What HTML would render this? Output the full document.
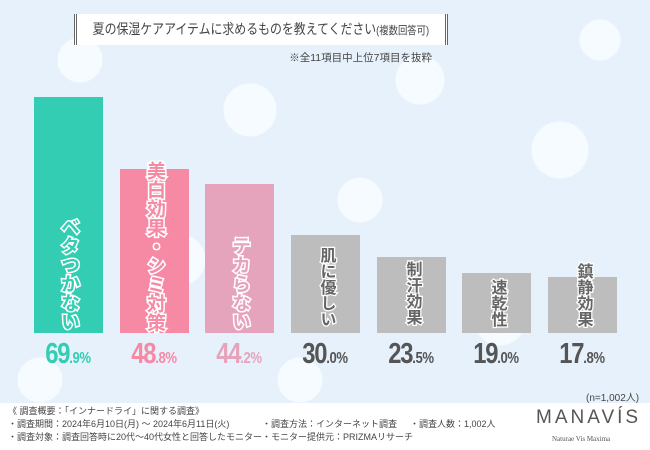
<!DOCTYPE html>
<html><head><meta charset="utf-8"><style>
*{margin:0;padding:0;box-sizing:border-box}
body{width:650px;height:450px;overflow:hidden;position:relative;font-family:"Liberation Sans","Noto Sans CJK JP",sans-serif;
background:#e7f2fb;}
.bg{position:absolute;left:0;top:0;width:650px;height:403px;overflow:hidden;
background:
radial-gradient(circle at 80px 60px,#f6fbff 0 22px,transparent 23px),
radial-gradient(circle at 250px 110px,#f6fbff 0 26px,transparent 27px),
radial-gradient(circle at 420px 80px,#f6fbff 0 24px,transparent 25px),
radial-gradient(circle at 560px 150px,#f6fbff 0 28px,transparent 29px),
radial-gradient(circle at 180px 260px,#f6fbff 0 25px,transparent 26px),
radial-gradient(circle at 360px 200px,#f6fbff 0 22px,transparent 23px),
radial-gradient(circle at 500px 320px,#f6fbff 0 25px,transparent 26px),
radial-gradient(circle at 600px 40px,#f6fbff 0 20px,transparent 21px),
radial-gradient(circle at 300px 380px,#f6fbff 0 22px,transparent 23px),
radial-gradient(circle at 40px 380px,#f6fbff 0 22px,transparent 23px),
#e6f1fb;}
.title{position:absolute;left:74px;top:14px;width:374px;height:31px;background:#fff;border-left:3px double #666;border-right:3px double #666;
color:#444;line-height:31px;text-align:center;white-space:nowrap;overflow:hidden}
.title span{display:inline-block;font-size:14px;transform:scaleX(0.85);transform-origin:center;margin:0 -30px}
.title small{font-size:11px}
.note{position:absolute;right:218px;top:50px;font-size:10.5px;color:#444;white-space:nowrap}
.bar{position:absolute;bottom:117px;width:69px}
.lab{position:absolute;writing-mode:vertical-rl;white-space:nowrap;font-weight:bold;paint-order:stroke fill;-webkit-text-stroke:3px #fff;left:50%;transform:translateX(-50%)}
.c{font-size:19px;line-height:19px;bottom:2px}
.g{font-size:16px;line-height:16px;color:#666;-webkit-text-stroke:2.5px #fff}
.pct{position:absolute;top:338px;width:90px;text-align:center;font-size:29px;font-weight:bold;letter-spacing:-1.5px;transform:scaleX(0.82);white-space:nowrap}
.pct span{font-size:16px;letter-spacing:-0.5px}
.foot{position:absolute;left:0;top:403px;width:650px;height:47px;background:#fff;font-size:9px;color:#444;line-height:13px;white-space:nowrap}
.foot div{white-space:nowrap}
</style></head><body>
<div class="bg"></div>
<div class="title"><span>夏の保湿ケアアイテムに求めるものを教えてください<small>(複数回答可)</small></span></div>
<div class="note">※全11項目中上位7項目を抜粋</div>

<div class="bar" style="left:34px;height:236px;background:#33cdb4"><div class="lab c" style="color:#33cdb4">ベタつかない</div></div>
<div class="bar" style="left:120px;height:164px;background:#f68aa5"><div class="lab c" style="color:#f68aa5;bottom:1px">美白効果・シミ対策</div></div>
<div class="bar" style="left:205px;height:149px;background:#e6a3bc"><div class="lab c" style="color:#e6a3bc">テカらない</div></div>
<div class="bar" style="left:291px;height:98px;background:#bdbdbd"><div class="lab g" style="top:12px">肌に優しい</div></div>
<div class="bar" style="left:377px;height:76px;background:#bdbdbd"><div class="lab g" style="top:4px">制汗効果</div></div>
<div class="bar" style="left:462px;height:60px;background:#bdbdbd"><div class="lab g" style="top:6px">速乾性</div></div>
<div class="bar" style="left:548px;height:56px;background:#bdbdbd"><div class="lab g" style="top:-14px">鎮静効果</div></div>

<div class="pct" style="left:23px;color:#33cdb4">69<span>.9%</span></div>
<div class="pct" style="left:109px;color:#f68aa5">48<span>.8%</span></div>
<div class="pct" style="left:194px;color:#e6a3bc">44<span>.2%</span></div>
<div class="pct" style="left:280px;color:#555">30<span>.0%</span></div>
<div class="pct" style="left:366px;color:#555">23<span>.5%</span></div>
<div class="pct" style="left:451px;color:#555">19<span>.0%</span></div>
<div class="pct" style="left:537px;color:#555">17<span>.8%</span></div>
<div style="position:absolute;left:586px;top:389px;font-size:10px;color:#444">(n=1,002人)</div>

<div class="foot">
<div style="position:absolute;left:8px;top:2px">《 調査概要：「インナードライ」に関する調査》</div>
<div style="position:absolute;left:8px;top:15px">・調査期間：2024年6月10日(月) ～ 2024年6月11日(火)</div>
<div style="position:absolute;left:8px;top:28px">・調査対象：調査回答時に20代～40代女性と回答したモニター</div>
<div style="position:absolute;left:262px;top:15px">・調査方法：インターネット調査</div>
<div style="position:absolute;left:262px;top:28px">・モニター提供元：PRIZMAリサーチ</div>
<div style="position:absolute;left:410px;top:15px">・調査人数：1,002人</div>
<div style="position:absolute;left:536px;top:8px;font-size:19px;letter-spacing:3px;color:#555;font-weight:300">MANAVÍS</div>
<div style="position:absolute;left:552px;top:30px;font-size:7px;font-family:'Liberation Serif',serif;color:#555">Naturae Vis Maxima</div>
</div>
</body></html>
